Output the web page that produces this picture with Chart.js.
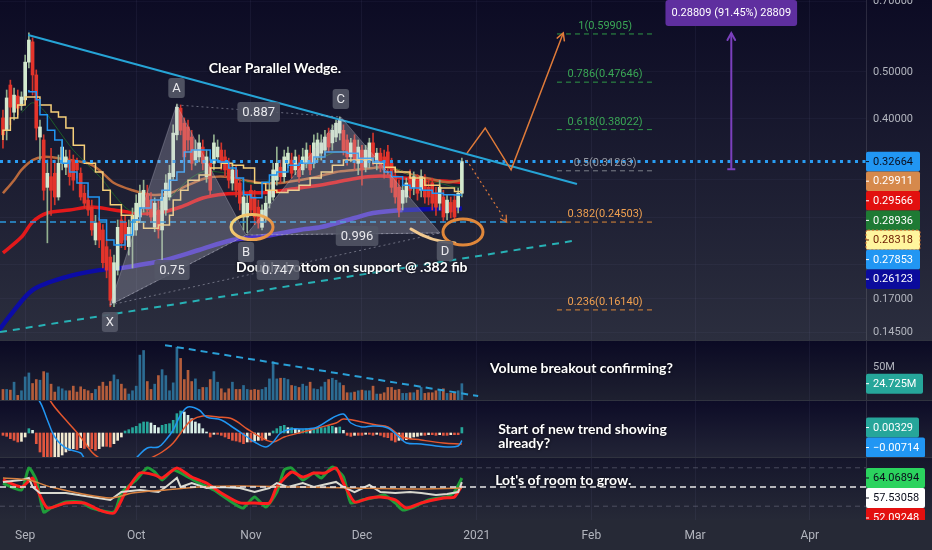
<!DOCTYPE html>
<html>
<head>
<meta charset="utf-8">
<title>Wedge chart</title>
<script src="https://cdn.jsdelivr.net/npm/chart.js@4.4.1/dist/chart.umd.min.js"></script>
<style>
  html, body { margin: 0; padding: 0; background: #262936; }
  #wrap { position: relative; width: 932px; height: 550px; overflow: hidden; background: #30333f; }
  #wrap canvas { position: absolute; left: 0; }
</style>
</head>
<body>
<div id="wrap">
  <canvas id="priceChart" width="932" height="340" style="top:0px"></canvas>
  <canvas id="volChart" width="932" height="59" style="top:341px"></canvas>
  <canvas id="macdChart" width="932" height="56" style="top:401px"></canvas>
  <canvas id="rsiChart" width="932" height="92" style="top:458px"></canvas>
</div>
<script>
// time axis: x = day number, 0 = Aug 26
const monthTicks = [6, 36, 67, 97, 128, 159, 187, 218];
const monthLabels = ['Sep', 'Oct', 'Nov', 'Dec', '2021', 'Feb', 'Mar', 'Apr'];
const X_MIN = -0.8, X_MAX = 233.2;

// daily candles
const candleOpen = [
  0.402, 0.379, 0.470, 0.413, 0.446, 0.426, 0.438, 0.524, 0.577, 0.493,
  0.367, 0.362, 0.289, 0.304, 0.309, 0.276, 0.324, 0.318, 0.329, 0.329,
  0.324, 0.309, 0.281, 0.272, 0.263, 0.225, 0.244, 0.236, 0.218, 0.2075,
  0.167, 0.195, 0.2475, 0.245, 0.218, 0.230, 0.236, 0.251, 0.263, 0.281,
  0.272, 0.239, 0.2595, 0.236, 0.2595, 0.276, 0.304, 0.371, 0.421, 0.392,
  0.385, 0.367, 0.329, 0.334, 0.350, 0.304, 0.324, 0.324, 0.334, 0.345,
  0.334, 0.324, 0.295, 0.314, 0.295, 0.251, 0.251, 0.285, 0.276, 0.263,
  0.239, 0.251, 0.268, 0.276, 0.299, 0.318, 0.304, 0.324, 0.329, 0.314,
  0.324, 0.314, 0.324, 0.340, 0.324, 0.334, 0.340, 0.345, 0.374, 0.357,
  0.367, 0.374, 0.379, 0.362, 0.334, 0.362, 0.324, 0.345, 0.318, 0.329,
  0.357, 0.324, 0.340, 0.334, 0.342, 0.324, 0.304, 0.289, 0.268, 0.276,
  0.304, 0.289, 0.299, 0.285, 0.299, 0.289, 0.295, 0.281, 0.268, 0.276,
  0.256, 0.269, 0.272, 0.263, 0.281
];
const candleHigh = [
  0.417, 0.459, 0.481, 0.463, 0.459, 0.455, 0.542, 0.602, 0.588, 0.505,
  0.398, 0.371, 0.329, 0.348, 0.329, 0.337, 0.362, 0.345, 0.345, 0.337,
  0.332, 0.317, 0.292, 0.285, 0.272, 0.253, 0.250, 0.242, 0.225, 0.215,
  0.2095, 0.2475, 0.257, 0.253, 0.2475, 0.262, 0.279, 0.292, 0.299, 0.292,
  0.282, 0.275, 0.272, 0.285, 0.307, 0.321, 0.389, 0.4295, 0.4275, 0.402,
  0.398, 0.379, 0.362, 0.371, 0.362, 0.345, 0.332, 0.371, 0.362, 0.357,
  0.345, 0.332, 0.324, 0.321, 0.302, 0.285, 0.279, 0.292, 0.285, 0.272,
  0.266, 0.277, 0.295, 0.324, 0.350, 0.329, 0.345, 0.350, 0.340, 0.345,
  0.337, 0.348, 0.357, 0.353, 0.371, 0.374, 0.371, 0.379, 0.383, 0.389,
  0.398, 0.404, 0.389, 0.371, 0.365, 0.371, 0.362, 0.353, 0.353, 0.365,
  0.374, 0.348, 0.348, 0.345, 0.353, 0.332, 0.314, 0.299, 0.292, 0.302,
  0.314, 0.311, 0.307, 0.314, 0.307, 0.299, 0.302, 0.289, 0.299, 0.285,
  0.279, 0.276, 0.279, 0.288, 0.332
];
const candleLow = [
  0.348, 0.362, 0.389, 0.398, 0.408, 0.417, 0.428, 0.510, 0.448, 0.362,
  0.329, 0.272, 0.222, 0.253, 0.266, 0.272, 0.314, 0.307, 0.292, 0.285,
  0.302, 0.272, 0.262, 0.253, 0.230, 0.220, 0.217, 0.197, 0.188, 0.164,
  0.164, 0.1905, 0.217, 0.215, 0.2095, 0.197, 0.230, 0.245, 0.257, 0.253,
  0.245, 0.234, 0.227, 0.205, 0.253, 0.272, 0.299, 0.362, 0.371, 0.326,
  0.345, 0.314, 0.321, 0.326, 0.314, 0.296, 0.279, 0.314, 0.326, 0.314,
  0.304, 0.288, 0.285, 0.276, 0.2595, 0.236, 0.233, 0.253, 0.242, 0.238,
  0.236, 0.245, 0.262, 0.272, 0.292, 0.295, 0.296, 0.317, 0.302, 0.307,
  0.296, 0.307, 0.317, 0.307, 0.317, 0.326, 0.329, 0.337, 0.342, 0.345,
  0.359, 0.362, 0.337, 0.321, 0.326, 0.314, 0.307, 0.292, 0.311, 0.317,
  0.321, 0.314, 0.311, 0.302, 0.307, 0.282, 0.268, 0.251, 0.2595, 0.269,
  0.275, 0.279, 0.272, 0.276, 0.268, 0.266, 0.2595, 0.253, 0.2595, 0.245,
  0.2475, 0.250, 0.2475, 0.256, 0.276
];
const candleClose = [
  0.371, 0.442, 0.423, 0.448, 0.421, 0.444, 0.524, 0.582, 0.493, 0.383,
  0.385, 0.285, 0.309, 0.285, 0.276, 0.324, 0.350, 0.334, 0.304, 0.299,
  0.314, 0.276, 0.268, 0.2595, 0.236, 0.244, 0.225, 0.202, 0.195, 0.169,
  0.202, 0.239, 0.222, 0.225, 0.239, 0.253, 0.268, 0.281, 0.285, 0.2595,
  0.251, 0.268, 0.236, 0.276, 0.295, 0.309, 0.374, 0.423, 0.379, 0.334,
  0.362, 0.324, 0.345, 0.357, 0.324, 0.334, 0.285, 0.357, 0.350, 0.324,
  0.314, 0.299, 0.314, 0.285, 0.268, 0.276, 0.268, 0.2595, 0.251, 0.244,
  0.2595, 0.268, 0.285, 0.314, 0.324, 0.304, 0.334, 0.340, 0.309, 0.334,
  0.304, 0.334, 0.345, 0.314, 0.357, 0.362, 0.357, 0.367, 0.350, 0.379,
  0.392, 0.398, 0.345, 0.334, 0.357, 0.329, 0.350, 0.314, 0.345, 0.357,
  0.334, 0.340, 0.318, 0.314, 0.318, 0.289, 0.276, 0.2595, 0.285, 0.295,
  0.285, 0.304, 0.281, 0.304, 0.276, 0.276, 0.268, 0.263, 0.289, 0.251,
  0.272, 0.257, 0.251, 0.281, 0.32664
];
// volume, millions
const volume = [
  16, 16, 15, 27, 7, 14, 35, 41, 25, 31,
  30, 43, 41, 24, 12, 20, 17, 14, 14, 21,
  12, 20, 16, 14, 10, 16, 21, 27, 21, 28,
  38, 31, 24, 17, 9, 14, 21, 68, 75, 28,
  16, 24, 37, 46, 37, 14, 26, 80, 63, 31,
  45, 28, 32, 16, 19, 19, 31, 43, 27, 17,
  11, 17, 27, 16, 16, 22, 16, 15, 16, 15,
  16, 19, 32, 58, 32, 33, 33, 31, 22, 21,
  19, 24, 21, 27, 17, 16, 20, 27, 31, 33,
  30, 26, 22, 11, 11, 12, 14, 15, 14, 14,
  21, 9, 9, 11, 19, 19, 15, 16, 10, 10,
  11, 11, 15, 19, 10, 11, 11, 14, 16, 17,
  10, 10, 11, 14, 24.725
];

// price overlays
const tenkanX = [7, 9, 10, 12, 14, 16, 18, 20, 23, 26, 28, 30, 33, 35, 37, 40, 43, 45, 47, 49, 51, 54, 56, 58, 61, 63, 65, 67, 70, 72, 74, 77, 80, 84, 87, 90, 93, 96, 100, 103, 105, 108, 110, 113, 116, 119, 122, 124];
const tenkanY = [0.459, 0.455, 0.438, 0.408, 0.379, 0.362, 0.324, 0.311, 0.295, 0.276, 0.2475, 0.225, 0.2197, 0.2304, 0.2475, 0.262, 0.272, 0.285, 0.299, 0.311, 0.342, 0.345, 0.345, 0.329, 0.326, 0.317, 0.302, 0.279, 0.275, 0.296, 0.3065, 0.311, 0.321, 0.324, 0.334, 0.342, 0.342, 0.340, 0.332, 0.326, 0.311, 0.304, 0.292, 0.288, 0.285, 0.281, 0.279, 0.27853];
const kijunX = [0, 2, 4, 6, 8, 10, 13, 15, 17, 19, 22, 25, 27, 29, 32, 35, 38, 42, 45, 46, 48, 50, 53, 56, 59, 62, 65, 68, 71, 74, 77, 80, 83, 86, 89, 92, 96, 100, 103, 106, 110, 114, 118, 122, 124];
const kijunY = [0.362, 0.379, 0.402, 0.4275, 0.444, 0.444, 0.4275, 0.4134, 0.4037, 0.383, 0.353, 0.324, 0.311, 0.285, 0.266, 0.253, 0.245, 0.238, 0.2416, 0.253, 0.272, 0.285, 0.299, 0.3065, 0.317, 0.324, 0.321, 0.317, 0.295, 0.285, 0.282, 0.285, 0.292, 0.302, 0.311, 0.321, 0.329, 0.329, 0.324, 0.318, 0.311, 0.302, 0.292, 0.288, 0.28318];
const emaFastX = [5, 8, 11, 15, 19, 23, 27, 30, 34, 38, 42, 46, 50, 54, 58, 62, 66, 70, 74, 78, 82, 86, 90, 94, 98, 102, 106, 110, 114, 118, 122, 124];
const emaFastY = [0.412, 0.432, 0.417, 0.379, 0.345, 0.321, 0.299, 0.279, 0.2595, 0.257, 0.262, 0.279, 0.299, 0.311, 0.311, 0.3065, 0.296, 0.295, 0.304, 0.314, 0.321, 0.332, 0.342, 0.342, 0.337, 0.329, 0.317, 0.3065, 0.299, 0.295, 0.2894, 0.28936];
const emaMidX = [0, 3, 5, 8, 11, 15, 18, 23, 26, 30, 35, 40, 45, 50, 55, 60, 65, 70, 75, 80, 85, 90, 95, 100, 104, 108, 112, 116, 120, 124];
const emaMidY = [0.281, 0.299, 0.314, 0.329, 0.334, 0.332, 0.329, 0.324, 0.314, 0.295, 0.285, 0.279, 0.281, 0.292, 0.302, 0.304, 0.299, 0.295, 0.295, 0.299, 0.304, 0.311, 0.314, 0.317, 0.318, 0.311, 0.305, 0.3005, 0.296, 0.29911];
const ma100X = [0, 5, 8, 12, 18, 24, 30, 36, 42, 48, 54, 60, 66, 72, 78, 84, 90, 96, 102, 108, 114, 120, 124];
const ma100Y = [0.2116, 0.2282, 0.2451, 0.2558, 0.2595, 0.2632, 0.2595, 0.2558, 0.2558, 0.2632, 0.2747, 0.280, 0.2813, 0.2823, 0.2866, 0.2908, 0.2962, 0.3022, 0.305, 0.3022, 0.299, 0.2976, 0.29566];
const ma200X = [-1, 2, 8, 17, 26, 32, 40, 44, 53, 62, 71, 80, 86, 95, 100, 108, 116, 124];
const ma200Y = [0.1467, 0.1575, 0.1774, 0.1887, 0.195, 0.197, 0.2017, 0.2046, 0.2146, 0.225, 0.2293, 0.236, 0.2393, 0.2498, 0.2558, 0.2595, 0.2607, 0.26123];

const priceTicks = [0.145, 0.17, 0.2, 0.25, 0.3, 0.4, 0.5, 0.7];
const priceTags = [0.32664, 0.29911, 0.29566, 0.28936, 0.28318, 0.27853, 0.26123];

// drawings on the price pane
const wedgeTopX = [6.8, 155.1], wedgeTopY = [0.596, 0.2936];
const wedgeLowX = [-0.8, 153.8], wedgeLowY = [0.1453, 0.2239];
const lastCloseLine = 0.32664;
const supportLevel = 0.245, supportEnd = 152.4;
const fibLevels = [1, 0.786, 0.618, 0.5, 0.382, 0.236];
const fibPrices = [0.59905, 0.47646, 0.38022, 0.31263, 0.24503, 0.16140];
const fibFrom = 149.7, fibTo = 176.2, fibLabelX = 162.7;
const patternNames = ['X', 'A', 'B', 'C', 'D'];
const patternX = [28.9, 46.9, 65.7, 91.3, 118.1];
const patternY = [0.1652, 0.4275, 0.2304, 0.4037, 0.2326];
const ratioLabels = ['0.75', '0.887', '0.996', '0.747'];
const ratioPairs = [[0, 2], [1, 3], [2, 4], [0, 4]];
const projX = [125.4, 130.3, 137.3, 151.4], projY = [0.340, 0.3832, 0.314, 0.602];
const dropX = [125.3, 136.1], dropY = [0.329, 0.245];
const measureX = 196.8, measureFrom = 0.315, measureTo = 0.6018;
const measureText = '0.28809 (91.45%) 28809';
const circleB = [67.3, 0.2393], loopD = [124.3, 0.2337];
const mainNotes = [
  { text: 'Clear Parallel Wedge.', x: 73.5, y: 0.5096, align: 'center' },
  { text: 'Double bottom on support @ .382 fib', x: 63, y: 0.197, align: 'left' }
];

// volume pane
const volTicks = [50];
const volTrendX = [43.8, 128.4], volTrendY = [83, 6];
const volNotes = [{ text: 'Volume breakout confirming?', x: 131.6, y: 48.5, align: 'left' }];

// MACD pane
const macdHist = [
  -0.0014, -0.002, -0.0034, -0.0044, -0.0054, -0.005, -0.0024, 0.0026, 0.0016, -0.0064,
  -0.0114, -0.0168, -0.018, -0.018, -0.0174, -0.0144, -0.0132, -0.0114, -0.0104, -0.0094,
  -0.0099, -0.0088, -0.0093, -0.0084, -0.0094, -0.0104, -0.0094, -0.008, -0.008, -0.0084,
  -0.0064, -0.0044, -0.0024, 0.0012, 0.002, 0.0032, 0.004, 0.0056, 0.0066, 0.0066,
  0.006, 0.0046, 0.0032, 0.0046, 0.0052, 0.0056, 0.0076, 0.0116, 0.0132, 0.0126,
  0.0106, 0.0086, 0.0066, 0.0056, 0.0026, 0.0006, -0.0024, -0.0008, -0.0008, -0.0014,
  -0.0024, -0.0034, -0.0044, -0.0048, -0.0054, -0.0064, -0.0054, -0.0054, -0.0048, -0.0044,
  -0.0044, -0.004, -0.0014, 0.0012, 0.0026, 0.004, 0.0046, 0.0032, 0.0032, 0.0026,
  0.002, 0.002, 0.0026, 0.002, 0.0026, 0.0032, 0.0032, 0.0032, 0.004, 0.004,
  0.0032, 0.0036, 0.0016, -0.0014, -0.002, -0.0014, -0.0014, -0.0014, -0.0008, -0.0008,
  -0.0014, -0.0008, -0.0014, -0.0024, -0.0028, -0.0044, -0.0054, -0.0044, -0.0044, -0.004,
  -0.0034, -0.0024, -0.002, -0.0014, -0.0014, -0.001, -0.001, -0.0014, -0.001, -0.0014,
  -0.0014, -0.001, -0.001, -0.001, 0.00329
];
const macdX = [6, 10, 12, 14, 17, 21, 22, 26, 33, 36, 39, 42, 44, 46, 48, 50, 53, 55, 59, 62, 66, 68, 71, 73, 75, 78, 82, 85, 89, 92, 94, 97, 100, 104, 107, 109, 113, 117, 120, 123, 124];
const macdY = [0.03, 0.0186, 0.0078, -0.0024, -0.009, -0.012, -0.015, -0.021, -0.021, -0.015, -0.009, -0.0084, -0.0042, 0.0018, 0.0108, 0.0156, 0.0138, 0.0096, 0.0078, 0.0036, -0.0024, -0.0054, -0.0084, -0.0054, 0, 0.0024, 0.0024, 0.0036, 0.009, 0.0114, 0.006, 0.0036, 0.0042, 0.003, -0.0024, -0.006, -0.0066, -0.0078, -0.0084, -0.0078, -0.0045];
const signalX = [8, 13, 17, 21, 24, 26, 30, 36, 40, 43, 46, 49, 51, 54, 58, 62, 66, 70, 73, 76, 81, 85, 90, 92, 97, 101, 104, 108, 113, 119, 124];
const signalY = [0.04, 0.0186, 0.0078, -0.0024, -0.0114, -0.015, -0.02, -0.02, -0.015, -0.0114, -0.006, 0.003, 0.0078, 0.0102, 0.0096, 0.0084, 0.0024, -0.003, -0.0054, -0.0024, 0.0006, 0.003, 0.006, 0.0084, 0.0066, 0.0048, 0.0036, -0.0024, -0.0042, -0.006, -0.0066];
const macdTags = [0.00329, -0.00714];
const macdNotes = [
  { text: 'Start of new trend showing', x: 133.8, y: 0.0024, align: 'left' },
  { text: 'already?', x: 133.8, y: -0.006, align: 'left' }
];

// RSI pane
const rsiLevels = [80, 50, 20];
const rsiGreenX = [0, 5, 7, 9, 11, 13, 17, 21, 24, 30, 32, 36, 39, 41, 43, 46, 50, 53, 57, 61, 64, 65, 68, 71, 74, 76, 78, 81, 84, 86, 89, 92, 94, 97, 101, 103, 106, 108, 111, 115, 118, 120, 122, 124];
const rsiGreenY = [55.8, 45.3, 79.7, 61, 11, 17.2, 26.6, 26.6, 17.2, 11, 40.6, 61, 79.7, 73.4, 61, 76.6, 65.6, 56.2, 45.3, 29.7, 18.7, 17.2, 34.4, 18.7, 42.1, 76.6, 79.7, 61, 71.8, 64.1, 81.2, 65.6, 25.1, 29.7, 34.4, 37.5, 25.1, 14.1, 18.7, 29.7, 32.8, 34.4, 42.1, 64.07];
const rsiRedX = [0, 5, 8, 9, 12, 17, 22, 26, 30, 33, 37, 41, 43, 47, 51, 55, 59, 64, 68, 72, 74, 78, 81, 84, 87, 90, 92, 95, 99, 102, 106, 109, 113, 119, 122, 124];
const rsiRedY = [61, 50, 64.1, 50, 17.2, 25.1, 25.1, 14.1, 9.3, 40.6, 71.8, 68.7, 64.1, 79.7, 65.6, 56.2, 40.6, 25.1, 25.1, 25.1, 50, 73.4, 65.6, 71.8, 71.8, 79.7, 56.2, 26.6, 32.8, 34.4, 29.7, 17.2, 25.1, 32.8, 34.4, 52.09];
const rsiWhiteX = [0, 5, 7, 8, 10, 17, 24, 29, 32, 37, 42, 44, 47, 48, 51, 55, 59, 64, 68, 72, 74, 77, 81, 84, 90, 92, 95, 99, 102, 106, 110, 113, 117, 120, 123, 124];
const rsiWhiteY = [57.9, 61, 64.1, 50, 40.6, 40.6, 34.4, 29.7, 42.1, 45.3, 42.1, 50, 64.1, 50, 56.2, 48.4, 50, 48.4, 42.1, 48.4, 56.2, 50, 56.2, 50, 57.9, 50, 42.1, 53.1, 42.1, 40.6, 42.1, 40.6, 37.5, 39, 42.1, 57.53];
const rsiMaX = [0, 7, 13, 29, 35, 44, 53, 64, 80, 95, 110, 124];
const rsiMaY = [64.1, 61, 50, 32.8, 40.6, 45.3, 50, 51.5, 50, 48.4, 46.9, 48.4];
const rsiTags = [64.06894, 57.53058, 52.09248];
const rsiNotes = [{ text: "Lot's of room to grow.", x: 133, y: 60.9, align: 'left' }];

// ---------------------------------------------------------------
Chart.defaults.font.family = 'Roboto';

const pts = (xs, ys) => xs.map((x, i) => ({ x, y: ys[i] }));
const flat = (x0, x1, v) => [{ x: x0, y: v }, { x: x1, y: v }];
const isUp = i => candleClose[i] >= candleOpen[i];
const dayIdx = candleOpen.map((_, i) => i);

function line(data, color, width, extra) {
  return Object.assign({ type: 'line', data, borderColor: color, borderWidth: width,
    pointRadius: 0, fill: false, tension: 0, borderCapStyle: 'butt' }, extra || {});
}

function xScale(showTime) {
  return {
    type: 'linear', min: X_MIN, max: X_MAX, offset: false,
    afterBuildTicks: s => { s.ticks = monthTicks.map(v => ({ value: v })); },
    afterFit: s => { s.height = showTime ? 30 : 0; },
    grid: { color: 'rgba(150,160,210,0.07)', drawTicks: false, offset: false },
    border: { display: false },
    ticks: { display: showTime, color: '#b2b5be', font: { size: 12 }, padding: 9,
      maxRotation: 0, autoSkip: false, callback: (v, i) => monthLabels[i] }
  };
}

// y axes keep a fixed 66px band on the right; their labels are painted by the overlays
function yScale(opts) {
  return Object.assign({
    position: 'right',
    afterFit: s => { s.width = 66; },
    border: { display: false },
    grid: { display: false },
    ticks: { display: false }
  }, opts);
}

function baseOptions(y, showTime) {
  return {
    responsive: false, devicePixelRatio: 1, animation: false, events: [],
    layout: { padding: 0 },
    plugins: { legend: { display: false }, tooltip: { enabled: false } },
    scales: { x: xScale(showTime), y }
  };
}

function background(top, bottom) {
  return {
    id: 'bg',
    beforeDraw(chart) {
      const { ctx, width, height, chartArea: a } = chart;
      const g = ctx.createLinearGradient(0, a.top, 0, a.bottom);
      g.addColorStop(0, top);
      g.addColorStop(1, bottom);
      ctx.save();
      ctx.fillStyle = g;
      ctx.fillRect(0, 0, width, a.bottom);
      if (a.bottom < height) {
        ctx.fillStyle = '#262936';
        ctx.fillRect(0, a.bottom, width, height - a.bottom);
      }
      ctx.restore();
    }
  };
}

function rrect(ctx, x, y, w, h, r) {
  ctx.beginPath();
  if (ctx.roundRect) ctx.roundRect(x, y, w, h, r);
  else ctx.rect(x, y, w, h);
}

function labelBox(ctx, text, cx, cy, o) {
  ctx.font = o.font;
  const w = Math.max(ctx.measureText(text).width + o.pad * 2, o.minW || 0);
  ctx.fillStyle = o.bg;
  rrect(ctx, cx - w / 2, cy - o.h / 2, w, o.h, 3);
  ctx.fill();
  ctx.fillStyle = o.fg;
  ctx.textAlign = 'center';
  ctx.textBaseline = 'middle';
  ctx.fillText(text, cx, cy + 0.5);
}

function arrowHead(ctx, from, to, len, color, width) {
  const a = Math.atan2(to[1] - from[1], to[0] - from[0]);
  ctx.setLineDash([]);
  ctx.strokeStyle = color;
  ctx.lineWidth = width;
  ctx.beginPath();
  ctx.moveTo(to[0] - len * Math.cos(a - 0.5), to[1] - len * Math.sin(a - 0.5));
  ctx.lineTo(to[0], to[1]);
  ctx.lineTo(to[0] - len * Math.cos(a + 0.5), to[1] - len * Math.sin(a + 0.5));
  ctx.stroke();
}

function axisLabels(chart, values, fmt) {
  const ctx = chart.ctx, s = chart.scales.y, left = chart.chartArea.right;
  ctx.font = '11px Roboto';
  ctx.fillStyle = '#b2b5be';
  ctx.textAlign = 'left';
  ctx.textBaseline = 'middle';
  values.forEach(v => ctx.fillText(fmt(v), left + 7, s.getPixelForValue(v)));
}

// value tags on the right axis, pushed down when they would overlap
function stackTags(chart, values, texts, styles, h) {
  const ctx = chart.ctx, s = chart.scales.y, left = chart.chartArea.right;
  let prev = -1e9;
  values.forEach((v, i) => {
    const yc = Math.max(s.getPixelForValue(v), prev + h);
    prev = yc;
    const st = styles[i];
    ctx.fillStyle = st.bg;
    rrect(ctx, left, yc - h / 2, st.w || 54, h, 2);
    ctx.fill();
    if (st.border) {
      ctx.strokeStyle = st.border;
      ctx.lineWidth = 1;
      ctx.setLineDash([2, 2]);
      ctx.stroke();
      ctx.setLineDash([]);
    }
    ctx.fillStyle = st.fg;
    ctx.fillRect(left, yc - 0.5, 3, 1);
    ctx.font = '11px Roboto';
    ctx.textAlign = 'left';
    ctx.textBaseline = 'middle';
    ctx.fillText(texts[i], left + 7, yc + 0.5);
  });
}

function drawNotes(chart, notes) {
  const ctx = chart.ctx, xs = chart.scales.x, ys = chart.scales.y;
  ctx.save();
  ctx.font = '700 14px Lato';
  ctx.fillStyle = '#ffffff';
  ctx.textBaseline = 'middle';
  ctx.shadowColor = 'rgba(0,0,0,0.85)';
  ctx.shadowBlur = 3;
  notes.forEach(n => {
    ctx.textAlign = n.align;
    ctx.fillText(n.text, xs.getPixelForValue(n.x), ys.getPixelForValue(n.y));
  });
  ctx.restore();
}

function paneOverlay(cfg) {
  return {
    id: 'paneOverlay',
    afterDraw(chart) {
      const { ctx, chartArea: a } = chart;
      drawNotes(chart, cfg.notes);
      ctx.save();
      ctx.fillStyle = 'rgba(255,255,255,0.12)';
      ctx.fillRect(a.right, 0, 1, a.bottom);
      ctx.beginPath();
      ctx.rect(a.right, 0, chart.width - a.right, a.bottom);
      ctx.clip();
      if (cfg.ticks) axisLabels(chart, cfg.ticks, cfg.tickFmt);
      stackTags(chart, cfg.tags, cfg.texts, cfg.styles, 20);
      ctx.restore();
    }
  };
}

const priceTagStyles = [
  { bg: '#2196f3', fg: '#0b0d1c' },
  { bg: '#d6894c', fg: '#ffffff' },
  { bg: '#e2100f', fg: '#ffffff' },
  { bg: '#1e7a34', fg: '#ffffff' },
  { bg: '#fff59d', fg: '#6b1a00', border: '#e07a30' },
  { bg: '#2196f3', fg: '#ffffff' },
  { bg: '#0b0b9c', fg: '#ffffff' }
];
const fibLineColors = ['#2f9a47', '#2f9a47', '#2f9a47', '#7d808a', '#e08a38', '#e08a38'];
const fibTextColors = ['#3aa655', '#3aa655', '#3aa655', '#9598a1', '#f0a050', '#f0a050'];
const vertexOffsets = [[0, 17], [0, -17], [0, 17], [0, -18], [5, 18]];
const ratioOffsets = [[-6, 0], [0, 1], [14, 2], [3, 1]];

const mainOverlay = {
  id: 'mainOverlay',
  afterDraw(chart) {
    const { ctx, chartArea: a } = chart;
    const xs = chart.scales.x, ys = chart.scales.y;
    const P = (x, y) => [xs.getPixelForValue(x), ys.getPixelForValue(y)];
    ctx.save();
    ctx.beginPath();
    ctx.rect(a.left, a.top, a.right - a.left, a.bottom - a.top);
    ctx.clip();

    // fib captions
    ctx.font = '11px Roboto';
    ctx.textAlign = 'center';
    ctx.textBaseline = 'alphabetic';
    fibLevels.forEach((lv, i) => {
      const [x, y] = P(fibLabelX, fibPrices[i]);
      ctx.fillStyle = fibTextColors[i];
      ctx.fillText(lv + '(' + fibPrices[i].toFixed(5) + ')', x, y - 5);
    });

    // hand drawn circles
    let [cx, cy] = P(circleB[0], circleB[1]);
    const g = ctx.createLinearGradient(cx - 20, cy - 12, cx + 20, cy + 12);
    g.addColorStop(0, '#f6da7c');
    g.addColorStop(1, '#e4853a');
    ctx.strokeStyle = g;
    ctx.lineWidth = 3;
    ctx.beginPath();
    ctx.ellipse(cx, cy, 21, 12.5, 0, 0, Math.PI * 2);
    ctx.stroke();

    [cx, cy] = P(loopD[0], loopD[1]);
    ctx.lineCap = 'round';
    ctx.strokeStyle = '#f2c98f';
    ctx.beginPath();
    ctx.moveTo(cx - 52, cy - 3);
    ctx.quadraticCurveTo(cx - 32, cy + 10, cx - 8, cy + 11);
    ctx.stroke();
    ctx.strokeStyle = '#e0873a';
    ctx.beginPath();
    ctx.ellipse(cx, cy, 20, 13, 0, 0, Math.PI * 2);
    ctx.stroke();

    drawNotes(chart, mainNotes);

    // pattern labels
    patternNames.forEach((nm, k) => {
      const [x, y] = P(patternX[k], patternY[k]);
      labelBox(ctx, nm, x + vertexOffsets[k][0], y + vertexOffsets[k][1],
        { font: '13px Roboto', pad: 4, h: 20, minW: 16, bg: 'rgba(84,87,102,0.92)', fg: '#e8e8ec' });
    });
    ratioPairs.forEach((pr, k) => {
      const [x0, y0] = P(patternX[pr[0]], patternY[pr[0]]);
      const [x1, y1] = P(patternX[pr[1]], patternY[pr[1]]);
      labelBox(ctx, ratioLabels[k], (x0 + x1) / 2 + ratioOffsets[k][0], (y0 + y1) / 2 + ratioOffsets[k][1],
        { font: '13px Roboto', pad: 5, h: 20, bg: 'rgba(84,87,102,0.85)', fg: '#e8e8ec' });
    });

    // arrow heads
    arrowHead(ctx, P(projX[2], projY[2]), P(projX[3], projY[3]), 8, '#e07b39', 1.5);
    arrowHead(ctx, P(dropX[0], dropY[0]), P(dropX[1], dropY[1]), 7, '#d9773a', 1.2);
    const top = P(measureX, measureTo), bot = P(measureX, measureFrom);
    arrowHead(ctx, bot, top, 8, '#7b40bd', 2);
    ctx.fillStyle = '#7b40bd';
    ctx.fillRect(bot[0] - 4, bot[1] - 1, 8, 2);
    labelBox(ctx, measureText, top[0], top[1] - 20,
      { font: '11px Roboto', pad: 6, h: 26, bg: '#5f2f9f', fg: '#ffffff' });
    ctx.restore();

    ctx.save();
    ctx.fillStyle = 'rgba(255,255,255,0.12)';
    ctx.fillRect(a.right, 0, 1, chart.height);
    axisLabels(chart, priceTicks, v => v.toFixed(5));
    stackTags(chart, priceTags, priceTags.map(v => v.toFixed(5)), priceTagStyles, 19.6);
    ctx.restore();
  }
};

// ---------------- price pane ----------------
const tri = ks => ks.map(k => ({ x: patternX[k], y: patternY[k] }));
const priceSets = [
  line([{ x: measureX, y: measureFrom }, { x: measureX, y: measureTo }], '#7b40bd', 2, { order: 1 }),
  line(pts(projX, projY), '#e07b39', 1.5, { order: 2 }),
  line(pts(dropX, dropY), '#d9773a', 1.2, { order: 2, borderDash: [2, 3] }),
  ...ratioPairs.map(pr => line(tri(pr), 'rgba(170,172,188,0.55)', 1, { order: 3, borderDash: [2, 3] })),
  line(tri([0, 1, 2, 0]), 'rgba(200,200,215,0.3)', 1, { order: 4, fill: 'shape', backgroundColor: 'rgba(200,200,215,0.27)' }),
  line(tri([2, 3, 4, 2]), 'rgba(200,200,215,0.3)', 1, { order: 4, fill: 'shape', backgroundColor: 'rgba(200,200,215,0.27)' }),
  ...fibPrices.map((p, i) => line(flat(fibFrom, fibTo, p), fibLineColors[i], 1, { order: 5, borderDash: [5, 4] })),
  line(pts(wedgeTopX, wedgeTopY), '#26a4d6', 2, { order: 6 }),
  line(pts(wedgeLowX, wedgeLowY), '#27b1b5', 2, { order: 6, borderDash: [7, 6] }),
  line(flat(X_MIN, X_MAX, lastCloseLine), '#2a9df4', 3, { order: 7, borderDash: [3, 4.5] }),
  line(flat(X_MIN, supportEnd, supportLevel), '#2a98dc', 1.5, { order: 7, borderDash: [6, 4] }),
  line(pts(tenkanX, tenkanY), '#2196f3', 1.5, { order: 8, stepped: 'after' }),
  line(pts(kijunX, kijunY), '#f6cf7a', 1.5, { order: 9, stepped: 'after' }),
  { type: 'bar', order: 10, grouped: false, barThickness: 3, minBarLength: 1,
    data: dayIdx.map(i => ({ x: i, y: [candleOpen[i], candleClose[i]] })),
    backgroundColor: dayIdx.map(i => isUp(i) ? '#d3e9cf' : '#e4342b') },
  { type: 'bar', order: 11, grouped: false, barThickness: 1,
    data: dayIdx.map(i => ({ x: i, y: [candleLow[i], candleHigh[i]] })),
    backgroundColor: dayIdx.map(i => isUp(i) ? '#93b08f' : '#d0352c') },
  line(pts(emaFastX, emaFastY), '#1d5e2a', 1, { order: 12, tension: 0.3 }),
  line(pts(emaMidX, emaMidY), '#b8693d', 2.5, { order: 13, tension: 0.3 }),
  line(pts(ma100X, ma100Y), '#e3191b', 3.5, { order: 14, tension: 0.3 }),
  line(pts(ma200X, ma200Y), '#0c0ca6', 4.5, { order: 15, tension: 0.3,
    segment: { borderColor: c => (c.p0.parsed.x >= 30 && c.p1.parsed.x <= 108) ? '#4a33c9' : '#0c0ca6' } })
];

new Chart(document.getElementById('priceChart'), {
  type: 'bar',
  data: { datasets: priceSets },
  options: baseOptions(yScale({
    type: 'logarithmic', min: 0.1399, max: 0.704,
    afterBuildTicks: s => { s.ticks = priceTicks.map(v => ({ value: v })); },
    grid: { display: true, color: 'rgba(150,160,210,0.05)', drawTicks: false }
  }), false),
  plugins: [background('#0c0b24', '#2b2e3e'), mainOverlay]
});

// ---------------- volume pane ----------------
new Chart(document.getElementById('volChart'), {
  type: 'bar',
  data: { datasets: [
    line(pts(volTrendX, volTrendY), '#2a9fd6', 2, { order: 1, borderDash: [7, 5] }),
    { type: 'bar', order: 2, grouped: false, barThickness: 2,
      data: volume.map((v, i) => ({ x: i, y: v })),
      backgroundColor: dayIdx.map(i => isUp(i) ? '#2c6c93' : '#b55d3b') }
  ]},
  options: baseOptions(yScale({ min: 0, max: 89.4 }), false),
  plugins: [background('#0b0a24', '#1e2030'),
    paneOverlay({ notes: volNotes, ticks: volTicks, tickFmt: v => v + 'M',
      tags: [volume[volume.length - 1]], texts: ['24.725M'],
      styles: [{ bg: '#26a69a', fg: '#ffffff', w: 57 }] })]
});

// ---------------- MACD pane ----------------
const histColors = macdHist.map((v, i) => {
  const prev = i ? macdHist[i - 1] : 0;
  if (v >= 0) return v >= prev ? '#26a69a' : '#d9efe7';
  return v <= prev ? '#e2563f' : '#f3ead0';
});
new Chart(document.getElementById('macdChart'), {
  type: 'bar',
  data: { datasets: [
    line(pts(macdX, macdY), '#2196f3', 1.5, { order: 1, tension: 0.35 }),
    line(pts(signalX, signalY), '#e4572e', 1.5, { order: 2, tension: 0.35 }),
    { type: 'bar', order: 3, grouped: false, barThickness: 2,
      data: macdHist.map((v, i) => ({ x: i, y: v })), backgroundColor: histColors }
  ]},
  options: baseOptions(yScale({ min: -0.0144, max: 0.0192 }), false),
  plugins: [background('#0d0c27', '#222436'),
    paneOverlay({ notes: macdNotes, tags: macdTags, texts: ['0.00329', '\u22120.00714'],
      styles: [{ bg: '#26a69a', fg: '#ffffff', w: 53 }, { bg: '#2196f3', fg: '#ffffff', w: 59 }] })]
});

// ---------------- RSI pane ----------------
new Chart(document.getElementById('rsiChart'), {
  type: 'line',
  data: { datasets: [
    line(flat(X_MIN, X_MAX, rsiLevels[1]), '#e6e6e6', 1.5, { order: 0, borderDash: [6, 4] }),
    line(pts(rsiMaX, rsiMaY), '#d7803f', 1.5, { order: 1, tension: 0.3 }),
    line(pts(rsiWhiteX, rsiWhiteY), '#d9d9d0', 2, { order: 2 }),
    line(pts(rsiRedX, rsiRedY), '#ff1e1e', 3, { order: 3, tension: 0.2 }),
    line(pts(rsiGreenX, rsiGreenY), '#1f9d3a', 3, { order: 4, tension: 0.2 }),
    line(flat(X_MIN, X_MAX, rsiLevels[0]), 'rgba(130,134,150,0.45)', 1, { order: 5, borderDash: [5, 4] }),
    line(flat(X_MIN, X_MAX, rsiLevels[2]), 'rgba(130,134,150,0.45)', 1, { order: 5, borderDash: [5, 4] })
  ]},
  options: baseOptions(yScale({ min: -1.56, max: 95.3 }), true),
  plugins: [background('#15162b', '#262937'),
    paneOverlay({ notes: rsiNotes, tags: rsiTags, texts: rsiTags.map(v => v.toFixed(5)),
      styles: [{ bg: '#2bd35e', fg: '#0b0d1c', w: 59 }, { bg: '#ffffff', fg: '#0b0d1c', w: 59 }, { bg: '#e3100f', fg: '#ffffff', w: 59 }] })]
});
</script>
</body>
</html>
